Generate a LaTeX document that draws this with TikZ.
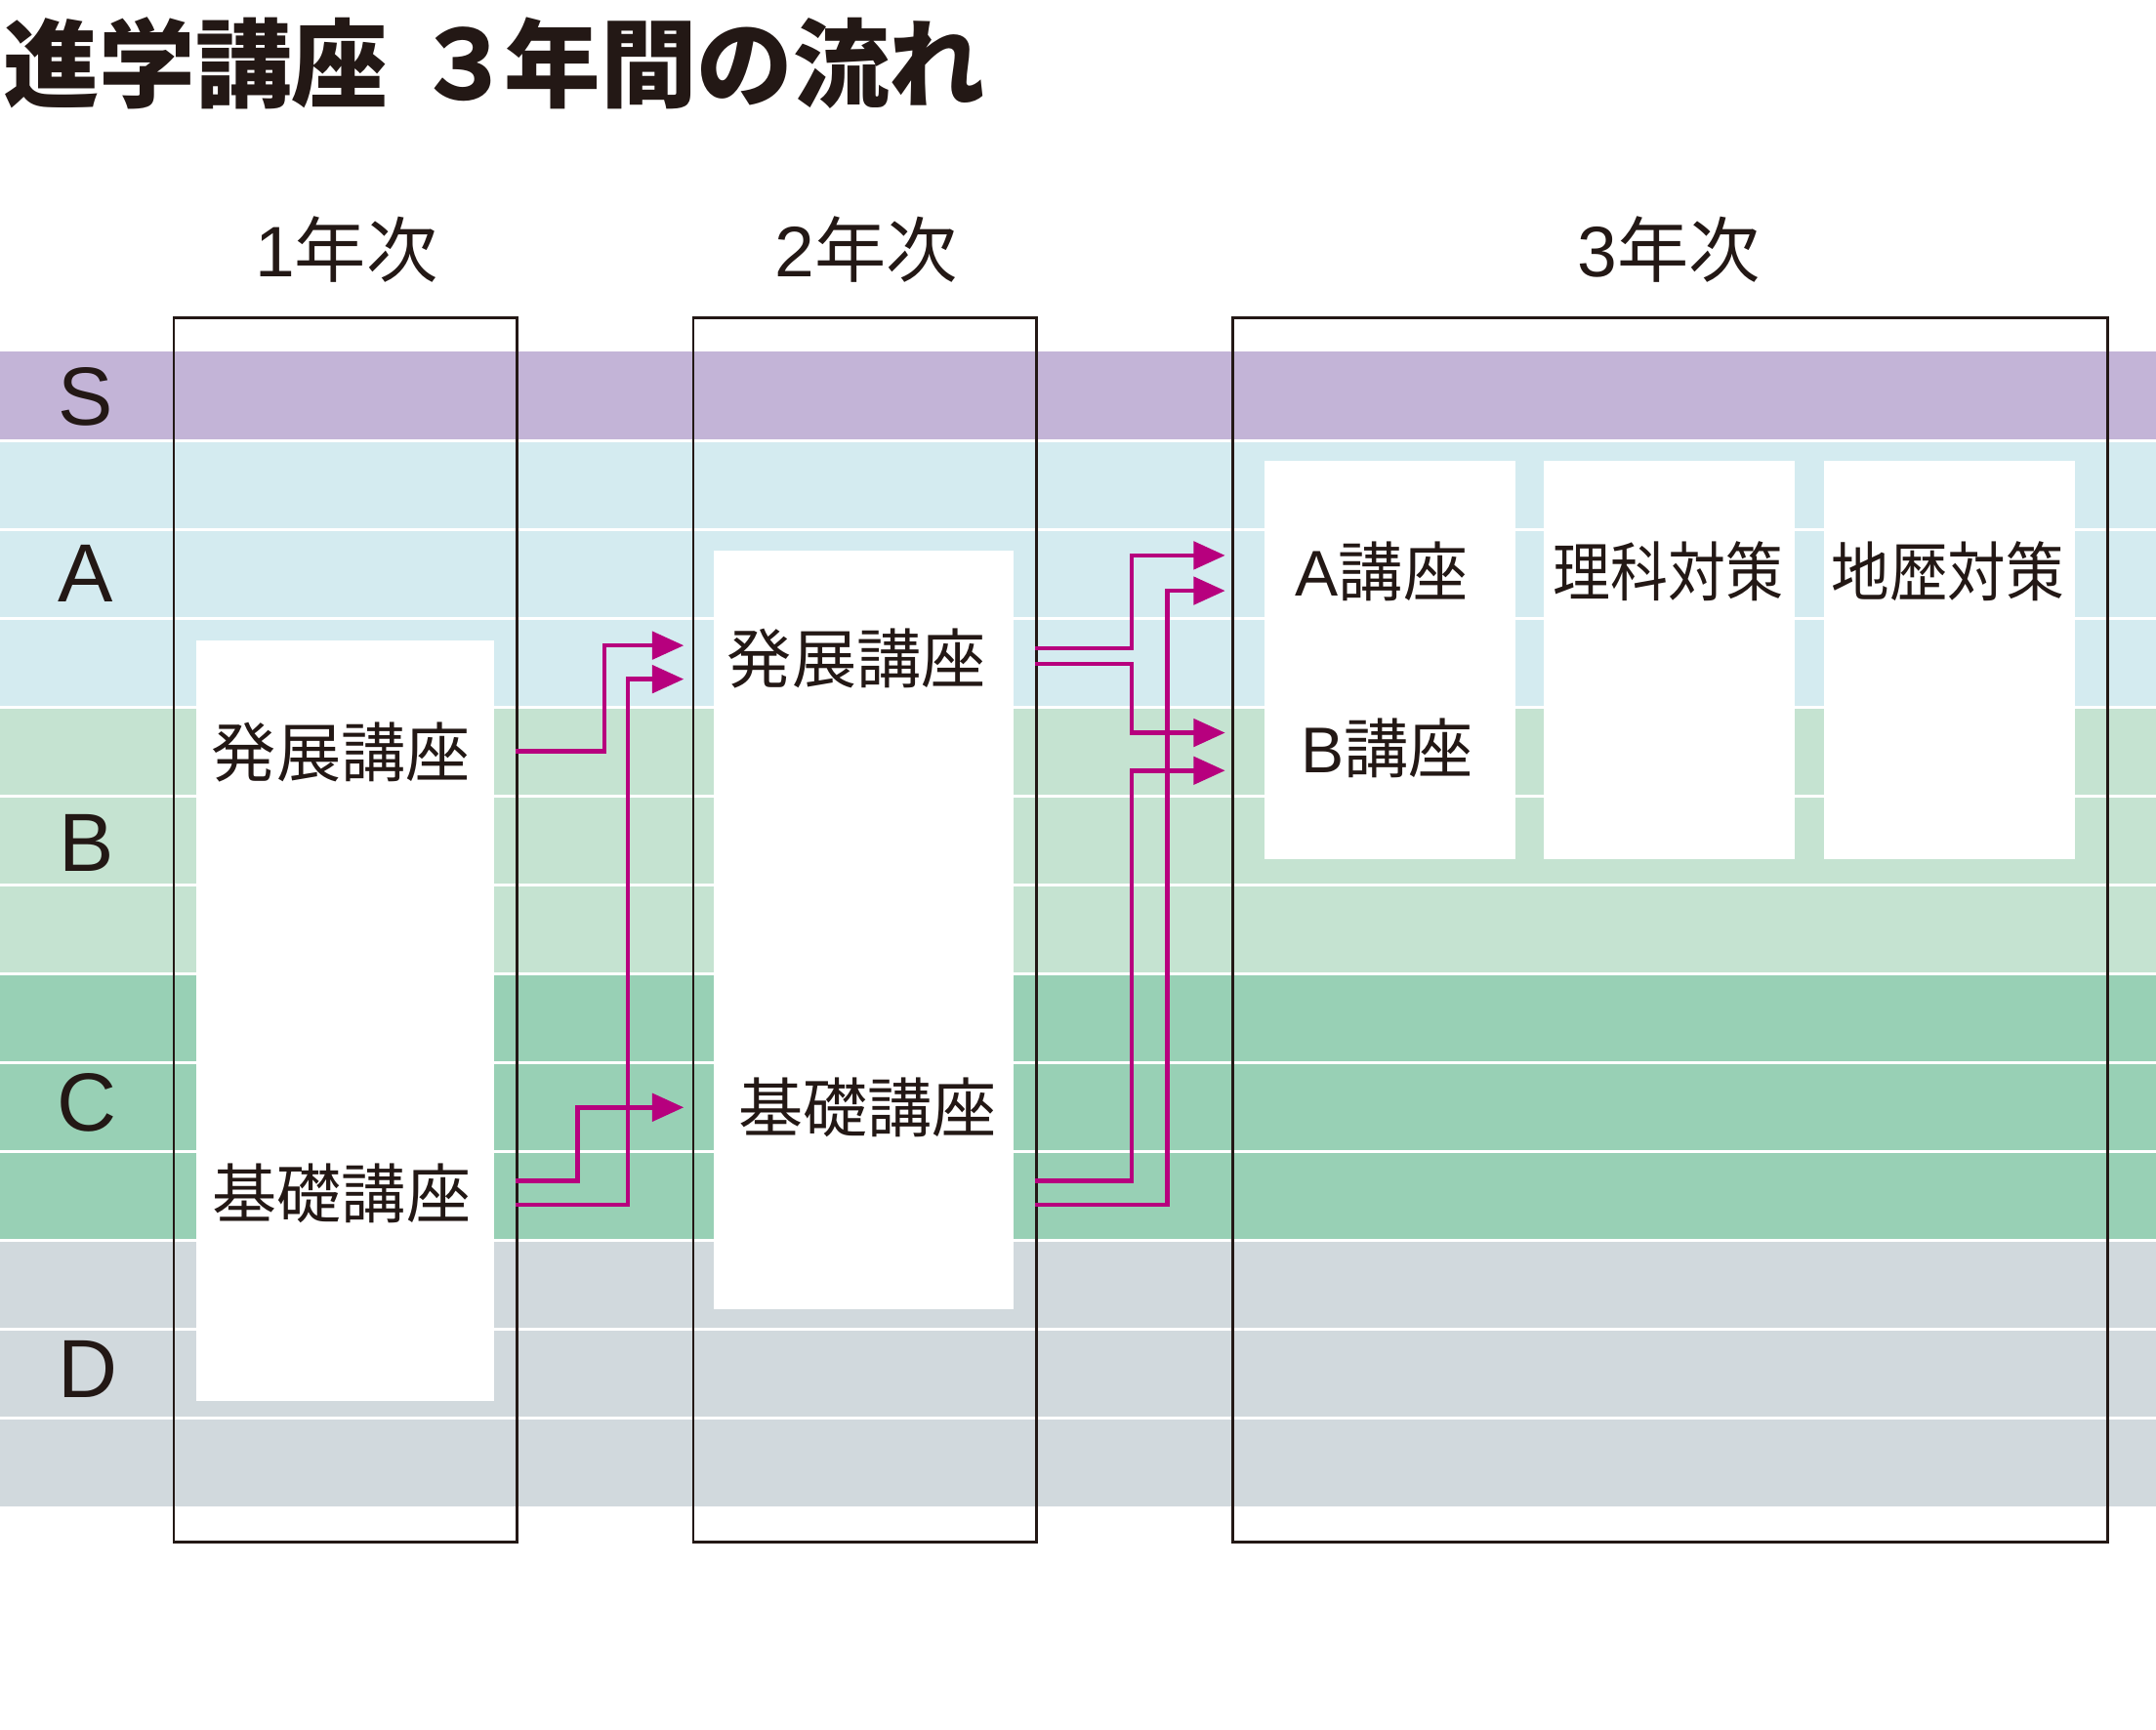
\documentclass[tikz,border=0pt]{standalone}
\usepackage{fontspec}
\setmainfont{Liberation Sans}
\newfontfamily\jp{Noto Sans CJK JP}
\usetikzlibrary{arrows.meta}
\definecolor{ink}{HTML}{231815}
\definecolor{bandS}{HTML}{C3B4D7}
\definecolor{bandA}{HTML}{D4EBF0}
\definecolor{bandB}{HTML}{C5E3D1}
\definecolor{bandC}{HTML}{98D0B5}
\definecolor{bandD}{HTML}{D1D9DD}
\definecolor{mag}{HTML}{B7007E}
\begin{document}
\begin{tikzpicture}[x=1pt,y=-1pt,
  frame/.style={draw=ink,line width=1.9pt,inner sep=0pt,anchor=north west},
  wbox/.style={fill=white,draw=none,inner sep=0pt,anchor=north west},
  arr/.style={draw=mag,line width=3.3pt,line join=miter,-{Triangle[length=23pt,width=20pt]}},
  lab/.style={inner sep=0pt,anchor=base,text=ink},
  title/.style={inner sep=0pt,anchor=base west,text=ink,font=\jp\bfseries\fontsize{70}{70}\selectfont},
  year/.style={lab,font=\fontsize{52}{52}\selectfont},
  grade/.style={lab,font=\fontsize{60}{60}\selectfont},
  course/.style={lab,font=\fontsize{47}{47}\selectfont}]
\useasboundingbox (0,0) rectangle (1568,1257.7);
% bands
\fill[bandS] (0,256) rectangle (1568,320.6);
\fill[bandA] (0,320.6) rectangle (1568,514.4);
\fill[bandB] (0,514.4) rectangle (1568,708.2);
\fill[bandC] (0,708.2) rectangle (1568,902);
\fill[bandD] (0,902) rectangle (1568,1095.8);
\foreach \i in {1,...,12}
  \draw[white,line width=2pt] (0,{256+64.6*\i}) -- (1568,{256+64.6*\i});
% white boxes
\node[wbox,minimum width=216.6pt,minimum height=553pt] (w1) at (142.4,466) {};
\node[wbox,minimum width=217.6pt,minimum height=552pt] (w2) at (519,400) {};
\node[wbox,minimum width=182.6pt,minimum height=290pt] (w3a) at (919.4,335) {};
\node[wbox,minimum width=182.2pt,minimum height=290pt] (w3b) at (1122.8,335) {};
\node[wbox,minimum width=182.4pt,minimum height=290pt] (w3c) at (1326.6,335) {};
% frames
\node[frame,minimum width=249.6pt,minimum height=890.7pt] (f1) at (125.4,230) {};
\node[frame,minimum width=249.5pt,minimum height=890.7pt] (f2) at (503.3,230) {};
\node[frame,minimum width=636.4pt,minimum height=890.7pt] (f3) at (895.6,230) {};
% title
\node[title] (t1) at (2,73) {進学講座};
\node[title] (t2) at (302.5,73) {３\hspace{-6pt}年間の流れ};
% year labels
\node[year] (y1) at (252,201.3) {1{\jp 年次}};
\node[year] (y2) at (630,201.3) {2{\jp 年次}};
\node[year] (y3) at (1214,201.3) {3{\jp 年次}};
% grade labels
\node[grade] (gS) at (62,309.5) {S};
\node[grade] (gA) at (62,437.5) {A};
\node[grade] (gB) at (63,633.5) {B};
\node[grade] (gC) at (63.5,822.5) {C};
\node[grade] (gD) at (64,1016.4) {D};
% course texts
\node[course] (c1a) at (248,565) {\jp 発展講座};
\node[course] (c1b) at (248.5,886) {\jp 基礎講座};
\node[course] (c2a) at (623,496.7) {\jp 発展講座};
\node[course] (c2b) at (631,823.6) {\jp 基礎講座};
\node[course] (c3a) at (1004.8,433.6) {A{\jp 講座}};
\node[course] (c3b) at (1008.7,562) {B{\jp 講座}};
\node[course] (c3c) at (1213,433.7) {\scalebox{0.89}[1]{\jp 理科対策}};
\node[course] (c3d) at (1416.6,433.7) {\scalebox{0.9}[1]{\jp 地歴対策}};
% connector ends
\coordinate (s1a) at (375,546.4);
\coordinate (s1b) at (375,859);
\coordinate (s1c) at (375,876.2);
\coordinate (e2a) at (497.3,469.5);
\coordinate (e2b) at (497.3,494);
\coordinate (e2c) at (497.3,805.5);
\coordinate (s2a) at (752.8,471.5);
\coordinate (s2b) at (752.8,483);
\coordinate (s2c) at (752.8,859);
\coordinate (s2d) at (752.8,876.2);
\coordinate (e3a) at (891,404);
\coordinate (e3b) at (891,429.7);
\coordinate (e3c) at (891,533);
\coordinate (e3d) at (891,560.5);
% arrows
\draw[arr] (s1a) -| (439.5,469.5) -- (e2a);
\draw[arr] (s1b) -| (420,805.5) -- (e2c);
\draw[arr] (s1c) -| (456.7,494) -- (e2b);
\draw[arr] (s2a) -| (823,404) -- (e3a);
\draw[arr] (s2b) -| (823,533) -- (e3c);
\draw[arr] (s2c) -| (823,560.5) -- (e3d);
\draw[arr] (s2d) -| (849,429.7) -- (e3b);
\end{tikzpicture}
\end{document}
